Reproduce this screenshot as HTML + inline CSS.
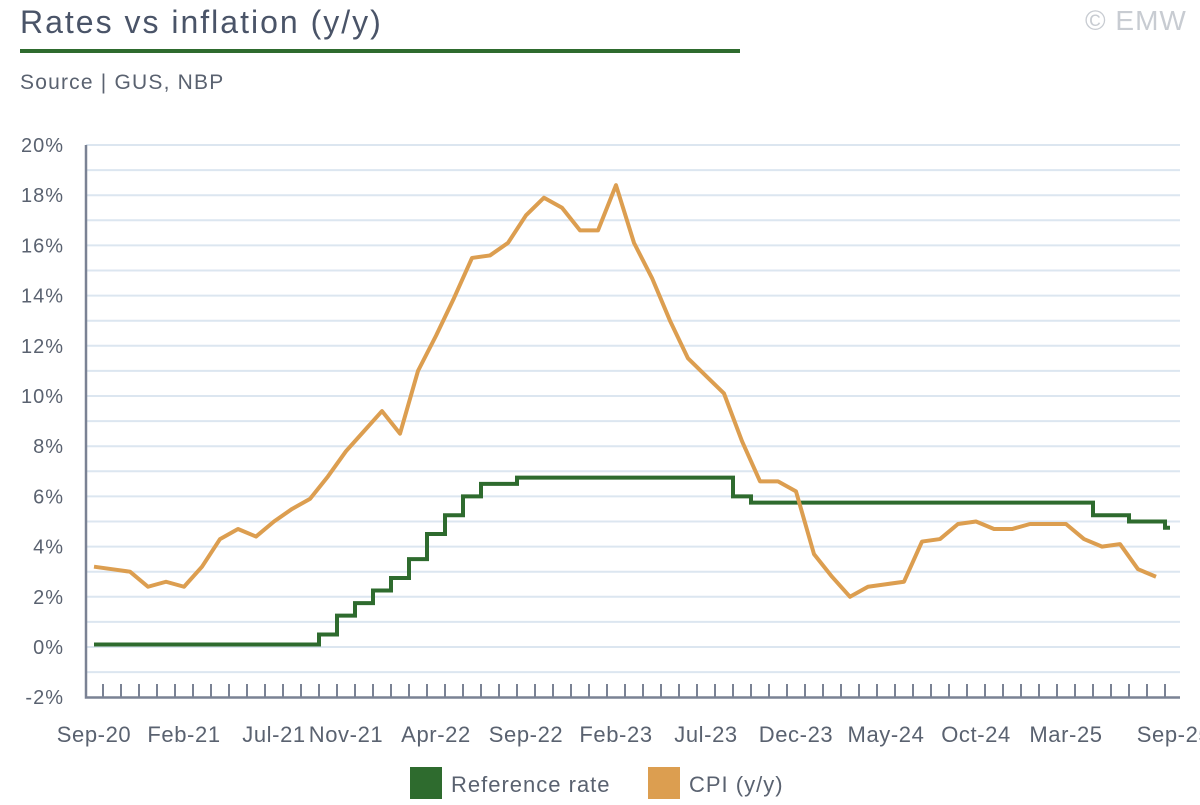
<!DOCTYPE html>
<html><head><meta charset="utf-8"><style>
body{margin:0;background:#fff;font-family:"Liberation Sans",sans-serif;}
svg text{font-family:"Liberation Sans",sans-serif;}
</style></head><body>
<svg width="1200" height="800" xmlns="http://www.w3.org/2000/svg">
<text x="20" y="33" font-size="32" letter-spacing="2" fill="#4a5468">Rates vs inflation (y/y)</text>
<rect x="20" y="49" width="720" height="4" fill="#2e6b2e"/>
<text x="1085" y="30" font-size="28" letter-spacing="1" fill="#c8ccd2">© EMW</text>
<text x="20" y="89" font-size="21" letter-spacing="1.2" fill="#5a6270">Source | GUS, NBP</text>
<g id="grid"></g>
<g id="axes"></g>
<g id="series"></g>
<g>
<rect x="410" y="767" width="32" height="32" fill="#2e6b2e"/>
<text x="451" y="792" font-size="22" letter-spacing="1" fill="#5a6270">Reference rate</text>
<rect x="648" y="767" width="32" height="32" fill="#dc9e50"/>
<text x="689" y="792" font-size="22" letter-spacing="1" fill="#5a6270">CPI (y/y)</text>
</g>
</svg>
<script>
const xLabels=["Sep-20","Feb-21","Jul-21","Nov-21","Apr-22","Sep-22","Feb-23","Jul-23","Dec-23","May-24","Oct-24","Mar-25","Sep-25"];
const xLabelIdx=[0,5,10,14,19,24,29,34,39,44,49,54,60];
const yTicks=[-2,0,2,4,6,8,10,12,14,16,18,20];
const cpi=[3.2,3.1,3.0,2.4,2.6,2.4,3.2,4.3,4.7,4.4,5.0,5.5,5.9,6.8,7.8,8.6,9.4,8.5,11.0,12.4,13.9,15.5,15.6,16.1,17.2,17.9,17.5,16.6,16.6,18.4,16.1,14.7,13.0,11.5,10.8,10.1,8.2,6.6,6.6,6.2,3.7,2.8,2.0,2.4,2.5,2.6,4.2,4.3,4.9,5.0,4.7,4.7,4.9,4.9,4.9,4.3,4.0,4.1,3.1,2.8];
const rate=[0.1,0.1,0.1,0.1,0.1,0.1,0.1,0.1,0.1,0.1,0.1,0.1,0.1,0.5,1.25,1.75,2.25,2.75,3.5,4.5,5.25,6.0,6.5,6.5,6.75,6.75,6.75,6.75,6.75,6.75,6.75,6.75,6.75,6.75,6.75,6.75,6.0,5.75,5.75,5.75,5.75,5.75,5.75,5.75,5.75,5.75,5.75,5.75,5.75,5.75,5.75,5.75,5.75,5.75,5.75,5.75,5.25,5.25,5.0,5.0,4.75];
const NS="http://www.w3.org/2000/svg";
const X=i=>94+i*18;
const Y=v=>647-v*25.1;
function mk(t,a,p){const e=document.createElementNS(NS,t);for(const k in a)e.setAttribute(k,a[k]);p.appendChild(e);return e;}
const grid=document.getElementById('grid'),axes=document.getElementById('axes'),ser=document.getElementById('series');
for(let v=-1;v<=20;v++){const l=mk('line',{x1:86,x2:1180,y1:Y(v),y2:Y(v),stroke:'#dce6f0','stroke-width':2},grid);

}
yTicks.forEach(v=>{const t=mk('text',{x:64,y:Y(v)+7,'font-size':20,'letter-spacing':1,fill:'#5a6270','text-anchor':'end'},axes);t.textContent=v+'%';

});
let a=mk('path',{d:`M86 ${Y(20)} V697.5 H1180`,stroke:'#7a8294','stroke-width':2.5,fill:'none'},axes);


let td='';for(let i=0;i<60;i++){const x=X(i)+9;td+=`M${x} 684 V697 `;}
a=mk('path',{d:td,stroke:'#7a8294','stroke-width':2,fill:'none'},axes);


xLabels.forEach((s,k)=>{const t=mk('text',{x:X(xLabelIdx[k]),y:742,'font-size':22,'letter-spacing':0.6,fill:'#5a6270','text-anchor':'middle'},axes);t.textContent=s;

});
let d=`M${X(0)} ${Y(rate[0])}`;
for(let i=1;i<rate.length;i++){const xm=X(i)-9;d+=` H${xm} V${Y(rate[i])}`;}
d+=` H${X(rate.length-1)-4}`;
let p=mk('path',{d:d,stroke:'#2e6b2e','stroke-width':4,fill:'none'},ser);


p=mk('path',{d:cpi.map((v,i)=>(i?'L':'M')+X(i)+' '+Y(v)).join(' '),stroke:'#dc9e50','stroke-width':4,fill:'none','stroke-linejoin':'round'},ser);


</script>
</body></html>
